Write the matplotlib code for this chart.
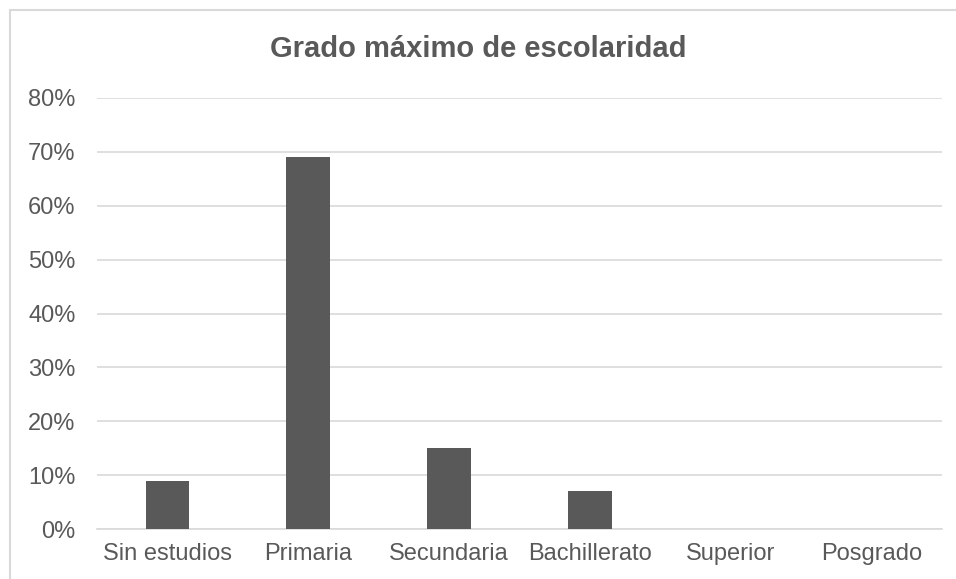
import matplotlib
matplotlib.use("Agg")
import matplotlib.pyplot as plt
from matplotlib.patches import Rectangle
from matplotlib.ticker import FuncFormatter

categories = ["Sin estudios", "Primaria", "Secundaria", "Bachillerato", "Superior", "Posgrado"]
values = [9, 69, 15, 7, 0, 0]
yticks = [0, 10, 20, 30, 40, 50, 60, 70, 80]

plt.rcParams['font.family'] = ['Liberation Sans', 'DejaVu Sans']

W, H = 956, 579
fig = plt.figure(figsize=(W/100, H/100), dpi=100)
fig.patch.set_facecolor("white")
# outer chart border
fig.add_artist(Rectangle((10/W, -0.05), 1.0, (H-10)/H + 0.05, transform=fig.transFigure,
                         fill=False, edgecolor="#d9d9d9", linewidth=1.5))

ax = fig.add_axes([97/W, 1-529/H, (942-97)/W, (529-98)/H])
x = list(range(len(categories)))
ax.bar(x, values, width=0.31, color="#595959", zorder=3)
ax.set_xlim(-0.5, len(categories) - 0.5)
ax.set_ylim(0, 80)
ax.set_yticks(yticks)
ax.yaxis.set_major_formatter(FuncFormatter(lambda v, p: f"{int(v)}%"))
ax.set_xticks(x)
ax.set_xticklabels(categories)
ax.grid(axis="y", color="#d9d9d9", linewidth=1.2, zorder=0)
for s in ["top", "right", "left"]:
    ax.spines[s].set_visible(False)
ax.spines["bottom"].set_color("#d9d9d9")
ax.spines["bottom"].set_linewidth(1.2)
ax.tick_params(axis="both", length=0, labelsize=17, colors="#595959")
ax.tick_params(axis="x", pad=10)
ax.tick_params(axis="y", pad=15.5)

fig.text(0.5, 1-57/H, "Grado máximo de escolaridad", ha="center", va="baseline",
         fontsize=21, fontweight="bold", color="#595959")

fig.savefig("out.png", dpi=100)
